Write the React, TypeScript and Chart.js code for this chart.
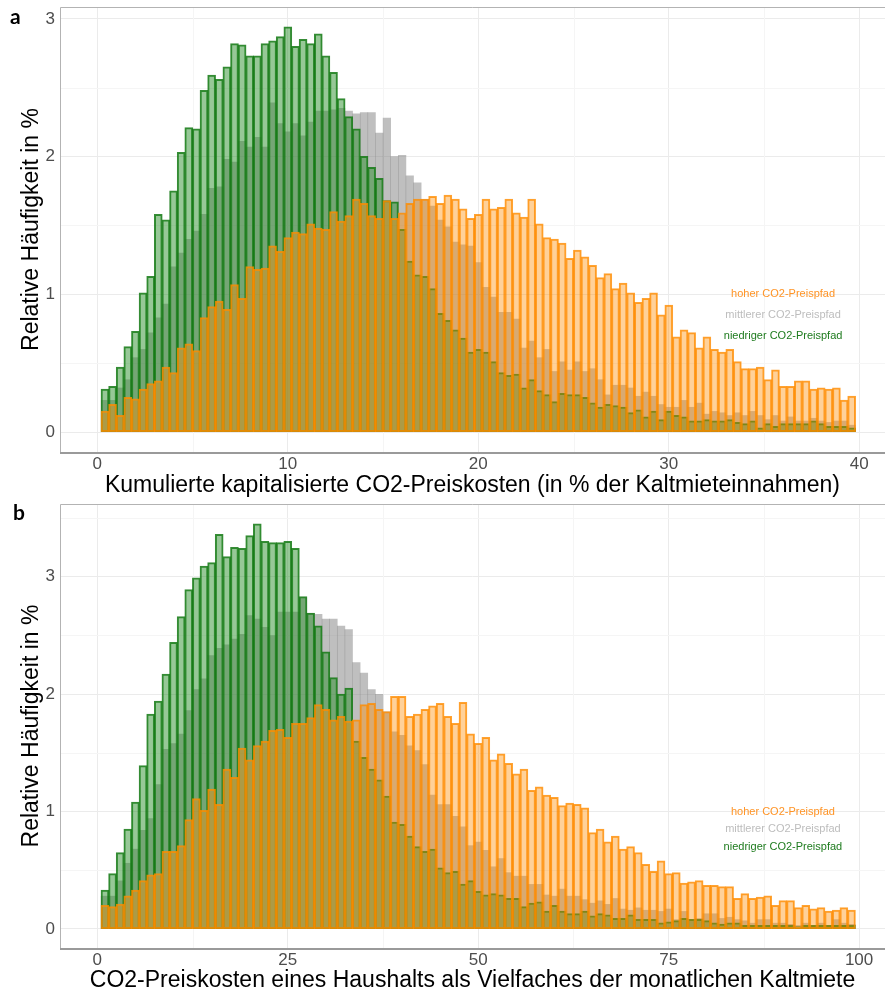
import React, { useEffect, useRef } from 'react';
import { Chart, registerables } from 'chart.js';

Chart.register(...registerables);

const FONT = '"Liberation Sans", Arial, Helvetica, sans-serif';

// ---------- Panel a: bins (centers, width 0.4) ----------
const binsA = [
  0.4, 0.8, 1.2, 1.6, 2, 2.4, 2.8, 3.2, 3.6, 4, 4.4, 4.8, 5.2, 5.6, 6, 6.4, 6.8, 7.2, 7.6, 8,
  8.4, 8.8, 9.2, 9.6, 10, 10.4, 10.8, 11.2, 11.6, 12, 12.4, 12.8, 13.2, 13.6, 14, 14.4, 14.8, 15.2, 15.6, 16,
  16.4, 16.8, 17.2, 17.6, 18, 18.4, 18.8, 19.2, 19.6, 20, 20.4, 20.8, 21.2, 21.6, 22, 22.4, 22.8, 23.2, 23.6, 24,
  24.4, 24.8, 25.2, 25.6, 26, 26.4, 26.8, 27.2, 27.6, 28, 28.4, 28.8, 29.2, 29.6, 30, 30.4, 30.8, 31.2, 31.6, 32,
  32.4, 32.8, 33.2, 33.6, 34, 34.4, 34.8, 35.2, 35.6, 36, 36.4, 36.8, 37.2, 37.6, 38, 38.4, 38.8, 39.2, 39.6,
];

const niedrigA = [
  0.31, 0.33, 0.47, 0.62, 0.73, 1.01, 1.13, 1.58, 1.54, 1.75,
  2.03, 2.21, 2.20, 2.48, 2.59, 2.56, 2.65, 2.82, 2.81, 2.73,
  2.73, 2.82, 2.84, 2.87, 2.94, 2.80, 2.85, 2.82, 2.89, 2.73,
  2.61, 2.42, 2.29, 2.20, 2.00, 1.92, 1.84, 1.68, 1.67, 1.47,
  1.24, 1.14, 1.13, 1.04, 0.86, 0.81, 0.74, 0.68, 0.58, 0.60,
  0.58, 0.51, 0.43, 0.41, 0.42, 0.32, 0.38, 0.30, 0.27, 0.22,
  0.28, 0.27, 0.27, 0.25, 0.21, 0.18, 0.20, 0.19, 0.18, 0.14,
  0.16, 0.11, 0.15, 0.09, 0.15, 0.12, 0.11, 0.08, 0.08, 0.09,
  0.08, 0.08, 0.09, 0.07, 0.06, 0.08, 0.03, 0.06, 0.04, 0.06,
  0.06, 0.06, 0.06, 0.08, 0.06, 0.04, 0.04, 0.04, 0.03,
];

const mittelA = [
  0.23, 0.23, 0.32, 0.38, 0.54, 0.60, 0.72, 0.83, 0.93, 1.20,
  1.30, 1.40, 1.46, 1.58, 1.77, 1.78, 1.98, 1.96, 2.11, 2.07,
  2.14, 2.07, 2.39, 2.24, 2.18, 2.24, 2.15, 2.25, 2.33, 2.33,
  2.34, 2.35, 2.33, 2.31, 2.32, 2.32, 2.17, 2.28, 2.00, 2.01,
  1.86, 1.81, 1.69, 1.64, 1.54, 1.49, 1.38, 1.36, 1.35, 1.23,
  1.05, 0.98, 0.87, 0.87, 0.82, 0.61, 0.66, 0.54, 0.60, 0.44,
  0.51, 0.45, 0.51, 0.44, 0.46, 0.38, 0.27, 0.34, 0.34, 0.32,
  0.26, 0.29, 0.26, 0.20, 0.18, 0.18, 0.23, 0.18, 0.21, 0.13,
  0.15, 0.14, 0.12, 0.14, 0.12, 0.15, 0.12, 0.09, 0.12, 0.08,
  0.11, 0.08, 0.08, 0.10, 0.08, 0.07, 0.08, 0.08, 0.05,
];

const hochA = [
  0.15, 0.20, 0.12, 0.25, 0.24, 0.31, 0.35, 0.37, 0.47, 0.43,
  0.61, 0.64, 0.59, 0.83, 0.91, 0.95, 0.89, 1.07, 0.97, 1.20,
  1.18, 1.19, 1.35, 1.31, 1.41, 1.45, 1.44, 1.51, 1.48, 1.47,
  1.60, 1.53, 1.57, 1.69, 1.66, 1.57, 1.55, 1.68, 1.55, 1.59,
  1.66, 1.69, 1.69, 1.71, 1.66, 1.72, 1.69, 1.62, 1.55, 1.58,
  1.69, 1.62, 1.63, 1.69, 1.59, 1.56, 1.69, 1.51, 1.41, 1.40,
  1.37, 1.26, 1.32, 1.27, 1.21, 1.12, 1.15, 1.04, 1.08, 1.01,
  0.94, 0.97, 1.01, 0.85, 0.92, 0.69, 0.74, 0.72, 0.61, 0.69,
  0.60, 0.58, 0.60, 0.51, 0.46, 0.46, 0.47, 0.38, 0.45, 0.33,
  0.33, 0.37, 0.37, 0.31, 0.32, 0.31, 0.32, 0.23, 0.26,
];

// ---------- Panel b: bins (centers, width 1) ----------
const binsB = [
  1, 2, 3, 4, 5, 6, 7, 8, 9, 10, 11, 12, 13, 14, 15, 16, 17, 18, 19, 20,
  21, 22, 23, 24, 25, 26, 27, 28, 29, 30, 31, 32, 33, 34, 35, 36, 37, 38, 39, 40,
  41, 42, 43, 44, 45, 46, 47, 48, 49, 50, 51, 52, 53, 54, 55, 56, 57, 58, 59, 60,
  61, 62, 63, 64, 65, 66, 67, 68, 69, 70, 71, 72, 73, 74, 75, 76, 77, 78, 79, 80,
  81, 82, 83, 84, 85, 86, 87, 88, 89, 90, 91, 92, 93, 94, 95, 96, 97, 98, 99,
];

const niedrigB = [
  0.33, 0.47, 0.65, 0.85, 1.08, 1.39, 1.83, 1.94, 2.17, 2.44,
  2.66, 2.89, 2.99, 3.09, 3.12, 3.36, 3.17, 3.25, 3.24, 3.35,
  3.45, 3.30, 3.29, 3.29, 3.30, 3.24, 2.83, 2.69, 2.58, 2.36,
  2.14, 2.00, 2.05, 1.60, 1.46, 1.36, 1.27, 1.13, 0.91, 0.89,
  0.79, 0.70, 0.66, 0.68, 0.52, 0.48, 0.49, 0.38, 0.41, 0.32,
  0.29, 0.30, 0.29, 0.26, 0.26, 0.19, 0.22, 0.23, 0.15, 0.20,
  0.15, 0.13, 0.13, 0.15, 0.11, 0.13, 0.12, 0.09, 0.09, 0.12,
  0.08, 0.08, 0.08, 0.05, 0.06, 0.07, 0.09, 0.08, 0.08, 0.07,
  0.05, 0.04, 0.05, 0.05, 0.03, 0.03, 0.03, 0.03, 0.03, 0.03,
  0.03, 0.02, 0.03, 0.03, 0.03, 0.03, 0.03, 0.03, 0.03,
];

const mittelB = [
  0.28, 0.28, 0.41, 0.56, 0.68, 0.84, 0.94, 1.23, 1.53, 1.58,
  1.66, 1.86, 2.04, 2.13, 2.33, 2.39, 2.42, 2.47, 2.51, 2.67,
  2.64, 2.57, 2.50, 2.70, 2.70, 2.70, 2.82, 2.69, 2.68, 2.64,
  2.64, 2.58, 2.55, 2.27, 2.18, 2.04, 2.00, 1.85, 1.68, 1.65,
  1.56, 1.52, 1.40, 1.14, 1.06, 1.06, 0.96, 0.87, 0.71, 0.74,
  0.67, 0.53, 0.60, 0.48, 0.45, 0.45, 0.38, 0.38, 0.29, 0.28,
  0.34, 0.28, 0.28, 0.25, 0.22, 0.24, 0.21, 0.26, 0.17, 0.16,
  0.18, 0.16, 0.16, 0.15, 0.17, 0.08, 0.15, 0.08, 0.09, 0.13,
  0.13, 0.09, 0.10, 0.08, 0.07, 0.05, 0.08, 0.08, 0.05, 0.05,
  0.04, 0.03, 0.05, 0.03, 0.05, 0.03, 0.08, 0.05, 0.04,
];

const hochB = [
  0.20, 0.19, 0.21, 0.28, 0.33, 0.41, 0.46, 0.47, 0.66, 0.66,
  0.71, 0.93, 1.11, 1.01, 1.19, 1.06, 1.36, 1.29, 1.54, 1.44,
  1.56, 1.60, 1.69, 1.70, 1.63, 1.75, 1.75, 1.80, 1.91, 1.87,
  1.78, 1.81, 1.77, 1.78, 1.91, 1.92, 1.87, 1.85, 1.98, 1.98,
  1.81, 1.83, 1.87, 1.90, 1.92, 1.81, 1.75, 1.93, 1.66, 1.58,
  1.63, 1.44, 1.49, 1.41, 1.32, 1.36, 1.18, 1.21, 1.14, 1.12,
  1.05, 1.07, 1.06, 1.03, 0.82, 0.85, 0.74, 0.79, 0.68, 0.70,
  0.65, 0.55, 0.49, 0.58, 0.47, 0.48, 0.39, 0.40, 0.41, 0.37,
  0.37, 0.36, 0.36, 0.26, 0.30, 0.26, 0.27, 0.28, 0.20, 0.24,
  0.24, 0.18, 0.20, 0.17, 0.18, 0.15, 0.16, 0.18, 0.16,
];

// ---------- ticks / labels ----------
const xTicksA = [0, 10, 20, 30, 40];
const xMinorA = [5, 15, 25, 35];
const yTicksA = [0, 1, 2, 3];
const yMinorA = [0.5, 1.5, 2.5];
const xTicksB = [0, 25, 50, 75, 100];
const xMinorB = [12.5, 37.5, 62.5, 87.5];
const yTicksB = [0, 1, 2, 3];
const yMinorB = [0.5, 1.5, 2.5, 3.5];

const seriesLabels = ['hoher CO2-Preispfad', 'mittlerer CO2-Preispfad', 'niedriger CO2-Preispfad'];
const annotY = [1.0, 0.85, 0.7];
const annotXA = 36;
const annotXB = 90;

const yTitle = 'Relative Häufigkeit in %';
const xTitleA = 'Kumulierte kapitalisierte CO2-Preiskosten (in % der Kaltmieteinnahmen)';
const xTitleB = 'CO2-Preiskosten eines Haushalts als Vielfaches der monatlichen Kaltmiete';

// ---------- styles ----------
const ORANGE = 'rgba(255,140,0,0.8)';
const ORANGE_FILL = 'rgba(255,140,0,0.4)';
const GREEN = 'rgba(20,120,20,0.85)';
const GREEN_FILL = 'rgba(34,139,34,0.47)';
const GREY_FILL = 'rgba(128,128,128,0.5)';
const LEGEND_COLORS = ['#FF9426', '#BDBDBD', '#1E7B1E'];

const decorPlugin = {
  id: 'decor',
  beforeDatasetsDraw(chart: any, _args: any, opts: any) {
    const { ctx, chartArea: ca, scales } = chart;
    const x = scales.x;
    const y = scales.y;
    ctx.save();
    ctx.strokeStyle = '#F5F5F5';
    ctx.lineWidth = 1;
    (opts.xMinor || []).forEach((v: number) => {
      const px = Math.round(x.getPixelForValue(v)) + 0.5;
      ctx.beginPath();
      ctx.moveTo(px, ca.top);
      ctx.lineTo(px, ca.bottom);
      ctx.stroke();
    });
    (opts.yMinor || []).forEach((v: number) => {
      const py = Math.round(y.getPixelForValue(v)) + 0.5;
      ctx.beginPath();
      ctx.moveTo(ca.left, py);
      ctx.lineTo(ca.right, py);
      ctx.stroke();
    });
    ctx.restore();
  },
  afterDatasetsDraw(chart: any, _args: any, opts: any) {
    const { ctx, chartArea: ca, scales } = chart;
    const x = scales.x;
    const y = scales.y;
    ctx.save();
    ctx.font = `11px ${FONT}`;
    ctx.textAlign = 'center';
    ctx.textBaseline = 'middle';
    seriesLabels.forEach((t, k) => {
      ctx.fillStyle = LEGEND_COLORS[k];
      ctx.fillText(t, x.getPixelForValue(opts.annotX), y.getPixelForValue(annotY[k]));
    });
    // panel frame
    ctx.strokeStyle = '#B3B3B3';
    ctx.lineWidth = 1;
    ctx.beginPath();
    ctx.moveTo(ca.left + 0.5, ca.bottom);
    ctx.lineTo(ca.left + 0.5, ca.top + 0.5);
    ctx.lineTo(ca.right, ca.top + 0.5);
    ctx.stroke();
    ctx.strokeStyle = '#9A9A9A';
    ctx.lineWidth = 2;
    ctx.beginPath();
    ctx.moveTo(ca.left, ca.bottom + 1);
    ctx.lineTo(ca.right, ca.bottom + 1);
    ctx.stroke();
    ctx.restore();
  },
};

type PanelProps = {
  top: number;
  height: number;
  padTop: number;
  xAxisHeight: number;
  titlePadBottom: number;
  bins: number[];
  hoch: number[];
  mittel: number[];
  niedrig: number[];
  xMin: number;
  xMax: number;
  yMin: number;
  yMax: number;
  xTicks: number[];
  xMinor: number[];
  yTicks: number[];
  yMinor: number[];
  xTitle: string;
  annotX: number;
};

function HistPanel(p: PanelProps) {
  const ref = useRef<HTMLCanvasElement | null>(null);
  useEffect(() => {
    if (!ref.current) return;
    const pts = (vals: number[]) => p.bins.map((b, i) => ({ x: b, y: vals[i] }));
    const chart = new Chart(ref.current, {
      type: 'bar',
      data: {
        datasets: [
          {
            label: seriesLabels[0],
            data: pts(p.hoch),
            backgroundColor: ORANGE_FILL,
            borderColor: ORANGE,
            borderWidth: 1,
            borderSkipped: false,
            inflateAmount: 0.5,
            order: 0,
          },
          {
            label: seriesLabels[2],
            data: pts(p.niedrig),
            backgroundColor: GREEN_FILL,
            borderColor: GREEN,
            borderWidth: 1,
            borderSkipped: false,
            inflateAmount: 0.5,
            order: 1,
          },
          {
            label: seriesLabels[1],
            data: pts(p.mittel),
            backgroundColor: GREY_FILL,
            borderWidth: 0,
            inflateAmount: 0.3,
            order: 2,
          },
        ],
      } as any,
      options: {
        animation: false,
        responsive: false,
        maintainAspectRatio: false,
        events: [],
        layout: { padding: { top: p.padTop, left: 0, right: 0, bottom: 0 } },
        datasets: { bar: { grouped: false, barPercentage: 1, categoryPercentage: 1 } },
        plugins: {
          legend: { display: false },
          tooltip: { enabled: false },
          decor: { xMinor: p.xMinor, yMinor: p.yMinor, annotX: p.annotX },
        } as any,
        scales: {
          x: {
            type: 'linear',
            min: p.xMin,
            max: p.xMax,
            offset: false,
            grid: { color: '#EBEBEB', lineWidth: 1, drawTicks: false, offset: false },
            border: { display: false },
            ticks: { color: '#4D4D4D', font: { family: FONT, size: 17 }, padding: 2, maxRotation: 0, autoSkip: false },
            title: {
              display: true,
              text: p.xTitle,
              color: '#000000',
              font: { family: FONT, size: 23, lineHeight: 1 },
              padding: { top: 0, bottom: p.titlePadBottom },
            },
            afterBuildTicks: (s: any) => {
              s.ticks = p.xTicks.map((v) => ({ value: v }));
            },
            afterFit: (s: any) => {
              s.height = p.xAxisHeight;
              s.paddingLeft = 0;
              s.paddingRight = 0;
            },
          },
          y: {
            type: 'linear',
            min: p.yMin,
            max: p.yMax,
            grid: { color: '#EBEBEB', lineWidth: 1, drawTicks: false },
            border: { display: false },
            ticks: { color: '#4D4D4D', font: { family: FONT, size: 17 }, padding: 5, autoSkip: false },
            title: {
              display: true,
              text: yTitle,
              color: '#000000',
              font: { family: FONT, size: 23, lineHeight: 1 },
              padding: { top: 20, bottom: 0 },
            },
            afterBuildTicks: (s: any) => {
              s.ticks = p.yTicks.map((v) => ({ value: v }));
            },
            afterFit: (s: any) => {
              s.width = 60;
              s.paddingTop = 0;
              s.paddingBottom = 0;
            },
          },
        } as any,
      },
      plugins: [decorPlugin as any],
    });
    return () => chart.destroy();
  }, []);
  return (
    <canvas
      ref={ref}
      width={885}
      height={p.height}
      style={{ position: 'absolute', left: 0, top: p.top, width: 885, height: p.height }}
    />
  );
}

export default function App() {
  useEffect(() => {
    document.body.style.margin = '0';
  }, []);
  const labelStyle: React.CSSProperties = {
    position: 'absolute',
    fontFamily: 'Lato, "Open Sans", sans-serif',
    fontWeight: 700,
    fontSize: 21,
    lineHeight: 1,
    color: '#000',
  };
  return (
    <div style={{ position: 'relative', width: 885, height: 993, background: '#ffffff', overflow: 'hidden' }}>
      <HistPanel
        top={0}
        height={500}
        padTop={7}
        xAxisHeight={48}
        titlePadBottom={3}
        bins={binsA}
        hoch={hochA}
        mittel={mittelA}
        niedrig={niedrigA}
        xMin={-1.96}
        xMax={41.35}
        yMin={-0.145}
        yMax={3.086}
        xTicks={xTicksA}
        xMinor={xMinorA}
        yTicks={yTicksA}
        yMinor={yMinorA}
        xTitle={xTitleA}
        annotX={annotXA}
      />
      <HistPanel
        top={495}
        height={498}
        padTop={9}
        xAxisHeight={45}
        titlePadBottom={1}
        bins={binsB}
        hoch={hochB}
        mittel={mittelB}
        niedrig={niedrigB}
        xMin={-4.9}
        xMax={103.4}
        yMin={-0.162}
        yMax={3.62}
        xTicks={xTicksB}
        xMinor={xMinorB}
        yTicks={yTicksB}
        yMinor={yMinorB}
        xTitle={xTitleB}
        annotX={annotXB}
      />
      <div style={{ ...labelStyle, left: 10, top: 5 }}>a</div>
      <div style={{ ...labelStyle, left: 13, top: 501 }}>b</div>
    </div>
  );
}
